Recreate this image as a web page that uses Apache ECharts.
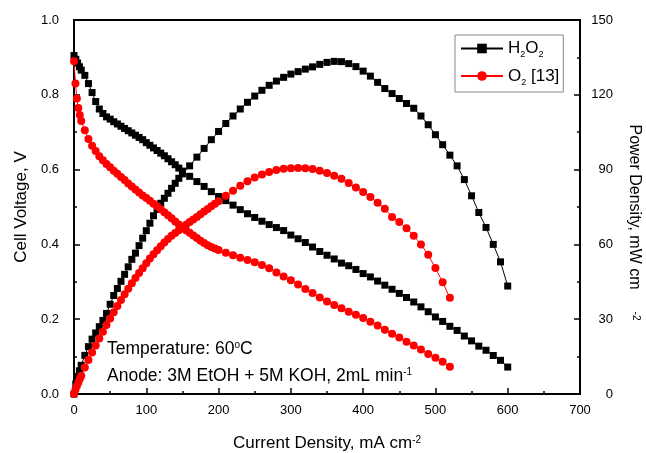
<!DOCTYPE html>
<html>
<head>
<meta charset="UTF-8">
<title>Cell voltage and power density</title>
<script src="https://cdn.jsdelivr.net/npm/echarts@6.0.0/dist/echarts.min.js"></script>
<style>
  html, body { margin: 0; padding: 0; background: #fff; }
  #main { width: 646px; height: 453px; }
</style>
</head>
<body>
<div id="main"></div>
<script>
// H2O2 cathode
var h2o2Current = [0, 2.5, 5, 7.5, 10, 15, 20, 25, 30, 35, 40, 45, 50, 55, 60, 65, 70, 75, 80, 85, 90, 95,
  100, 105, 110, 115, 120, 125, 130, 135, 140, 145, 150,
  160, 170, 180, 190, 200, 210, 220, 230, 240, 250, 260, 270, 280, 290, 300,
  310, 320, 330, 340, 350, 360, 370, 380, 390, 400, 410, 420, 430, 440, 450,
  460, 470, 480, 490, 500, 510, 520, 530, 540, 550, 560, 570, 580, 590, 600];
var h2o2Voltage = [0.905, 0.895, 0.885, 0.875, 0.866, 0.852, 0.830, 0.806, 0.782, 0.762, 0.750, 0.741, 0.735, 0.728,
  0.722, 0.716, 0.710, 0.704, 0.698, 0.692, 0.686, 0.680, 0.672, 0.665, 0.658, 0.651, 0.644, 0.637,
  0.629, 0.621, 0.613, 0.604, 0.596,
  0.582, 0.568, 0.555, 0.541, 0.528, 0.517, 0.505, 0.493, 0.482, 0.472, 0.462, 0.453, 0.445, 0.437, 0.425,
  0.415, 0.405, 0.393, 0.381, 0.371, 0.361, 0.350, 0.343, 0.333, 0.322, 0.313, 0.302, 0.291, 0.280, 0.269,
  0.258, 0.246, 0.233, 0.220, 0.206, 0.194, 0.181, 0.170, 0.155, 0.142, 0.128, 0.117, 0.103, 0.090, 0.072];
var h2o2Power = [0, 4, 7, 9.3, 11.5, 15.5, 19, 22, 24.5, 27, 29.5, 32.3, 36, 39.5, 42.3, 45.2, 48, 51, 54, 56.5,
  59.5, 62.5, 65.5, 68.5, 71.5, 74, 76.5, 78.5, 80.5, 82.5, 84.5, 86.5, 88.3,
  91.5, 95, 98.5, 102, 105.3, 108.5, 111.5, 114.3, 117, 119.5, 121.8, 123.8, 125.5, 127, 128.3,
  129.3, 130.3, 131.2, 132.2, 133, 133.4, 133.3, 132.5, 131.3, 129.5, 127.5, 125, 122.5, 120.5, 118.5,
  116.5, 114.6, 111.5, 108, 104, 100, 95.8, 91.5, 86, 79.5, 72.8, 66.8, 60, 53, 43.3];

// O2 cathode [13]
var o2Current = [0, 2, 4, 6, 8, 10, 15, 20, 25, 30, 35, 40, 45, 50, 55, 60, 65, 70, 75, 80, 85, 90, 95,
  100, 105, 110, 115, 120, 125, 130, 135, 140, 145, 150, 155, 160, 165, 170, 175, 180, 185, 190, 195, 200,
  210, 220, 230, 240, 250, 260, 270, 280, 290, 300, 310, 320, 330, 340, 350, 360, 370, 380, 390, 400,
  410, 420, 430, 440, 450, 460, 470, 480, 490, 500, 510, 520];
var o2Voltage = [0.89, 0.83, 0.79, 0.765, 0.746, 0.73, 0.705, 0.682, 0.664, 0.65, 0.636, 0.625, 0.615,
  0.606, 0.597, 0.589, 0.58, 0.572, 0.563, 0.555, 0.547, 0.539, 0.531, 0.524, 0.517, 0.509, 0.502, 0.494,
  0.486, 0.478, 0.47, 0.461, 0.453, 0.445, 0.438, 0.431, 0.424, 0.417, 0.41, 0.404, 0.398, 0.393, 0.389, 0.385,
  0.378, 0.371, 0.364, 0.358, 0.352, 0.345, 0.336, 0.325, 0.314, 0.304, 0.293, 0.281, 0.27, 0.258, 0.247,
  0.238, 0.229, 0.22, 0.212, 0.203, 0.193, 0.183, 0.172, 0.161, 0.151, 0.14, 0.13, 0.119, 0.107, 0.097, 0.086, 0.073];
var o2Power = [0, 1.7, 3.2, 4.6, 6, 7.3, 10.6, 13.6, 16.6, 19.5, 22.3, 25, 27.7, 30.3, 32.8, 35.3, 37.7,
  40, 42.2, 44.4, 46.5, 48.5, 50.4, 52.4, 54.3, 56, 57.7, 59.3, 60.8, 62.2, 63.5, 64.6, 65.7, 66.8, 67.9,
  69, 70, 71, 72.1, 73.2, 74.2, 75.3, 76.3, 77.3,
  79.5, 81.5, 83.5, 85.3, 86.8, 88, 89, 89.8, 90.3, 90.5, 90.6, 90.5, 90.2, 89.5, 88.6,
  87.5, 86.3, 84.6, 82.8, 81, 79, 76.7, 74.3, 71, 69, 66.5, 63.5, 60, 55.8, 50.5, 44.8, 38.6];

var leftTicks = [0, 0.2, 0.4, 0.6, 0.8, 1.0];
var rightTicks = [0, 30, 60, 90, 120, 150];

function pairs(xs, ys) {
  return xs.map(function (x, i) { return [x, ys[i]]; });
}

var font = 'Liberation Sans, Arial, sans-serif';
var supStyle = { fontSize: 10, verticalAlign: 'top', lineHeight: 10, fontFamily: font, color: '#000' };
var subStyle = { fontSize: 9, verticalAlign: 'bottom', lineHeight: 22, fontFamily: font, color: '#000' };

var chart = echarts.init(document.getElementById('main'));

function axisCommon() {
  return {
    axisLine: { show: true, onZero: false, lineStyle: { color: '#000', width: 2 } },
    axisTick: { show: true, inside: true, length: 6, lineStyle: { color: '#000', width: 1.5 } },
    minorTick: { show: true, splitNumber: 2, length: 3, lineStyle: { color: '#000', width: 1.5 } },
    splitLine: { show: false },
    axisLabel: { color: '#000', fontSize: 13, fontFamily: font }
  };
}

var xAx = axisCommon();
xAx.type = 'value';
xAx.min = 0; xAx.max = 700; xAx.interval = 100;
xAx.axisLabel.margin = 10;
xAx.name = 'Current Density, mA cm{sup|-2}';
xAx.nameLocation = 'middle';
xAx.nameGap = 41;
xAx.nameTextStyle = { color: '#000', fontSize: 17, fontFamily: font, rich: { sup: supStyle } };

var yLeft = axisCommon();
yLeft.type = 'value';
yLeft.min = 0; yLeft.max = 1.0; yLeft.interval = 0.2;
yLeft.axisLabel.formatter = function (v) { return v.toFixed(1); };
yLeft.axisLabel.margin = 15;
yLeft.name = 'Cell Voltage, V';
yLeft.nameLocation = 'middle';
yLeft.nameGap = 44;
yLeft.nameTextStyle = { color: '#000', fontSize: 17, fontFamily: font };

var yRight = axisCommon();
yRight.type = 'value';
yRight.position = 'right';
yRight.min = 0; yRight.max = 150; yRight.interval = 30;
yRight.axisLabel.margin = 33;
yRight.axisLabel.align = 'right';
yRight.name = 'Power Density, mW cm';
yRight.nameLocation = 'middle';
yRight.nameRotate = -90;
yRight.nameGap = 46;
yRight.nameTextStyle = { color: '#000', fontSize: 16, fontFamily: font };

function lineSeries(name, data, axis, color, symbol, size) {
  return {
    name: name,
    type: 'line',
    yAxisIndex: axis,
    data: data,
    symbol: symbol,
    symbolSize: size,
    showAllSymbol: true,
    animation: false,
    lineStyle: { color: color, width: 1 },
    itemStyle: { color: color }
  };
}

chart.setOption({
  animation: false,
  grid: { left: 74, right: 66, top: 20, bottom: 59, show: true, borderColor: '#000', borderWidth: 2,
    containLabel: false, outerBoundsMode: 'none' },
  legend: {
    data: ['H2O2', 'O2 [13]'],
    orient: 'vertical',
    left: 455, top: 35,
    padding: [5, 4, 5, 5],
    itemWidth: 42, itemHeight: 12, itemGap: 8,
    borderColor: '#888', borderWidth: 1,
    formatter: function (n) {
      return n === 'H2O2' ? 'H{sub|2}O{sub|2}' : 'O{sub|2} [13]';
    },
    textStyle: { color: '#000', fontSize: 17, fontFamily: font, rich: { sub: subStyle } }
  },
  xAxis: xAx,
  yAxis: [yLeft, yRight],
  series: [
    lineSeries('H2O2', pairs(h2o2Current, h2o2Voltage), 0, '#000', 'rect', 7),
    lineSeries('H2O2', pairs(h2o2Current, h2o2Power), 1, '#000', 'rect', 7),
    lineSeries('O2 [13]', pairs(o2Current, o2Voltage), 0, '#ff0000', 'circle', 8),
    lineSeries('O2 [13]', pairs(o2Current, o2Power), 1, '#ff0000', 'circle', 8)
  ],
  graphic: [
    {
      type: 'text', left: 107, top: 340,
      style: { text: 'Temperature: 60{sup|o}C', fill: '#000', fontSize: 17.5, fontFamily: font, rich: { sup: supStyle } }
    },
    {
      type: 'text', left: 107, top: 367,
      style: { text: 'Anode: 3M EtOH + 5M KOH, 2mL min{sup|-1}', fill: '#000', fontSize: 17.5, fontFamily: font, rich: { sup: supStyle } }
    },
    {
      type: 'text', x: 636, y: 316, rotation: -Math.PI / 2,
      style: { text: '-2', fill: '#000', fontSize: 10, fontFamily: font, align: 'center', verticalAlign: 'middle' }
    }
  ]
});
</script>
</body>
</html>
